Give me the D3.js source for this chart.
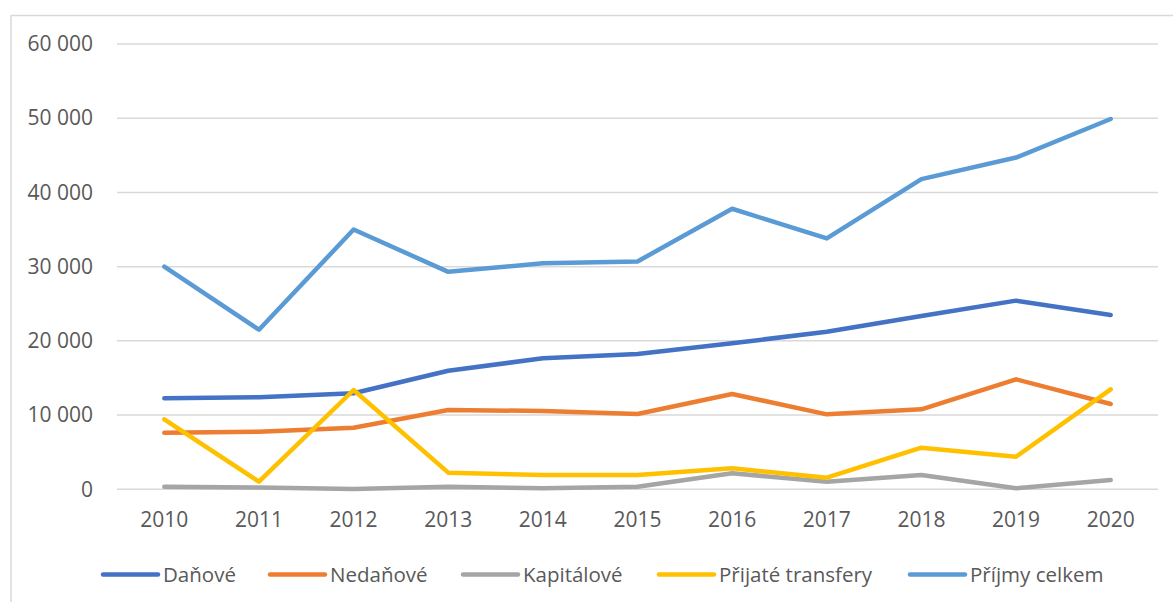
<!DOCTYPE html>
<html><head><meta charset="utf-8">
<script src="https://cdn.jsdelivr.net/npm/d3@7"></script>
<style>body{margin:0;background:#fff;}svg{display:block;font-family:"Open Sans",sans-serif;}</style>
</head><body>
<svg id="c" width="1173" height="602"></svg>
<script>
const years = ["2010","2011","2012","2013","2014","2015","2016","2017","2018","2019","2020"];
const danove = [12270,12400,12940,15980,17650,18230,19670,21240,23350,25420,23490];
const nedanove = [7630,7760,8300,10690,10550,10150,12840,10100,10780,14820,11500];
const kapitalove = [350,250,40,350,130,350,2160,1020,1930,130,1250];
const transfery = [9430,1020,13380,2240,1930,1930,2830,1560,5610,4390,13470];
const celkem = [30000,21500,35000,29300,30450,30700,37800,33800,41800,44700,49900];
const seriesNames = ["Daňové","Nedaňové","Kapitálové","Přijaté transfery","Příjmy celkem"];
const yTicks = [0,10000,20000,30000,40000,50000,60000];

const seriesData = [danove, nedanove, kapitalove, transfery, celkem];
const colors = ["#4472C4","#ED7D31","#A5A5A5","#FFC000","#5B9BD5"];

const svg = d3.select("#c");
// chart frame
svg.append("line").attr("x1",11).attr("x2",1173).attr("y1",15.5).attr("y2",15.5).attr("stroke","#d9d9d9").attr("stroke-width",1.5);
svg.append("line").attr("x1",11).attr("x2",11).attr("y1",15).attr("y2",602).attr("stroke","#d9d9d9").attr("stroke-width",1.5);

const x = d3.scaleBand().domain(years).range([117,1158]);
const y = d3.scaleLinear().domain([0,60000]).range([489.3,44]);
const fmt = v => d3.format(",")(v).replace(/,/g," ");

// gridlines
svg.append("g").selectAll("line").data(yTicks).join("line")
  .attr("x1",117).attr("x2",1158)
  .attr("y1",d=>y(d)).attr("y2",d=>y(d))
  .attr("stroke","#d9d9d9").attr("stroke-width",1.5);

// y axis labels
const ya = svg.append("g").attr("transform","translate(93,0)")
  .call(d3.axisLeft(y).tickValues(yTicks).tickFormat(fmt).tickSize(0).tickPadding(0));
ya.select(".domain").remove();
ya.selectAll("text").attr("fill","#595959").style("font-size","21px").style("font-family","'Open Sans',sans-serif");

// x axis labels
const xa = svg.append("g").attr("transform","translate(0,512)")
  .call(d3.axisBottom(x).tickSize(0).tickPadding(0));
xa.select(".domain").remove();
xa.selectAll("text").attr("fill","#595959").style("font-size","21px").style("font-family","'Open Sans',sans-serif").attr("dy","0.71em");

// lines
const line = d3.line().x((d,i)=>x(years[i])+x.bandwidth()/2).y(d=>y(d));
svg.append("g").selectAll("path").data(seriesData).join("path")
  .attr("d",d=>line(d)).attr("fill","none")
  .attr("stroke",(d,i)=>colors[i]).attr("stroke-width",4.5)
  .attr("stroke-linecap","round").attr("stroke-linejoin","round");

// legend
const legX = [103,270,463,659,910];
const lg = svg.append("g").selectAll("g").data(seriesNames).join("g")
  .attr("transform",(d,i)=>`translate(${legX[i]},574.5)`);
lg.append("line").attr("x1",0).attr("x2",55).attr("y1",0).attr("y2",0)
  .attr("stroke",(d,i)=>colors[i]).attr("stroke-width",4.5).attr("stroke-linecap","round");
lg.append("text").attr("x",60).attr("dy","0.35em").text(d=>d)
  .attr("fill","#595959").style("font-size","20.5px");
</script>
</body></html>
